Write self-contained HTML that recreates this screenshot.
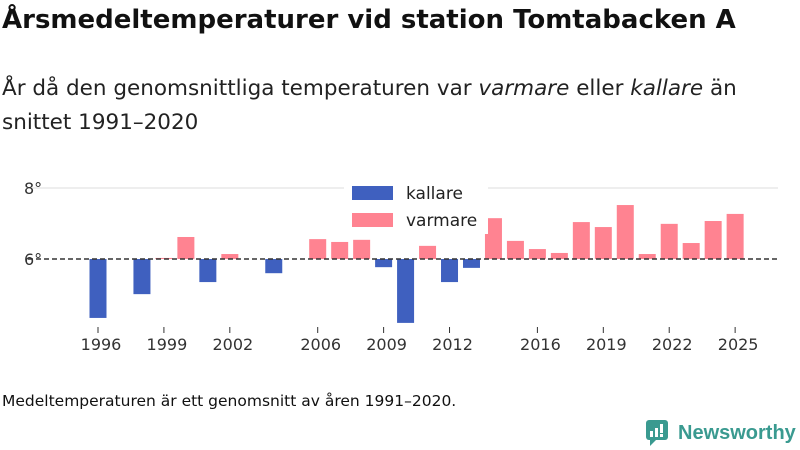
<!DOCTYPE html>
<html><head><meta charset="utf-8">
<style>
body{margin:0;width:800px;height:450px;background:#fff;font-family:"DejaVu Sans","Liberation Sans",sans-serif;overflow:hidden;position:relative;color:#222}
.title{position:absolute;left:2px;top:5px;font-size:26px;font-weight:bold;color:#111;white-space:nowrap}
.sub{position:absolute;left:2px;top:72px;font-size:21.5px;line-height:34px;color:#222;width:760px}
.note{position:absolute;left:2px;top:392px;font-size:15.5px;color:#111}
.logo{position:absolute;left:646px;top:420px;display:flex;align-items:center;font-size:20px;font-weight:bold;color:#3a9a90;font-family:"Liberation Sans",sans-serif}
</style></head><body>
<div class="title">Årsmedeltemperaturer vid station Tomtabacken A</div>
<div class="sub">År då den genomsnittliga temperaturen var <i>varmare</i> eller <i>kallare</i> än<br>snittet 1991–2020</div>
<svg id="chart" width="800" height="450" style="position:absolute;left:0;top:0"></svg>
<div class="note">Medeltemperaturen är ett genomsnitt av åren 1991–2020.</div>
<div class="logo">
<svg width="24" height="26" viewBox="0 0 24 26"><rect x="0" y="0" width="22" height="20" rx="3" fill="#3a9a90"/><polygon points="4,20 10,20 4,26" fill="#3a9a90"/><rect x="4" y="11" width="3" height="6" fill="#fff"/><rect x="9" y="8" width="3" height="9" fill="#fff"/><rect x="14" y="4" width="3" height="9" fill="#fff"/><rect x="14" y="14" width="3" height="3" fill="#fff"/></svg>
<span style="margin-left:8px">Newsworthy</span></div>
<script>
const years=[1996,1997,1998,1999,2000,2001,2002,2003,2004,2005,2006,2007,2008,2009,2010,2011,2012,2013,2014,2015,2016,2017,2018,2019,2020,2021,2022,2023,2024,2025];
const temps=[4.34,null,5.01,6.03,6.62,5.35,6.14,null,5.6,null,6.56,6.48,6.54,5.77,4.2,6.37,5.35,5.75,7.15,6.51,6.28,6.17,7.04,6.9,7.52,6.14,6.99,6.45,7.07,7.27];
const baseline=6.0;
const yTicks=[6,8];
const xTicks=[1996,1999,2002,2006,2009,2012,2016,2019,2022,2025];
const NS="http://www.w3.org/2000/svg";
const svg=document.getElementById('chart');
const x=y=>98+(y-1996)*21.97;
const yS=v=>259-(v-6)*35.5;
function mk(t,a){const e=document.createElementNS(NS,t);for(const k in a)e.setAttribute(k,a[k]);svg.appendChild(e);return e;}
yTicks.forEach(t=>{
 if(t!==baseline){const g=mk('line',{x1:28,x2:778,y1:yS(t),y2:yS(t),stroke:'#ddd','stroke-width':1});
 
 }
 const l=mk('text',{x:24,y:yS(t)+6,'font-size':16,fill:'#333'});l.textContent=t+'°';
 
 
});
years.forEach((yr,i)=>{const v=temps[i];if(v==null)return;
 const warm=v>=baseline;
 const r=mk('rect',{x:x(yr)-8.5,width:17,y:Math.min(yS(v),yS(baseline)),height:Math.abs(yS(v)-yS(baseline)),fill:warm?'#ff8391':'#3f60bf'});
 
 
});
const bl=mk('line',{x1:28,x2:778,y1:yS(baseline),y2:yS(baseline),stroke:'#333','stroke-width':1.5,'stroke-dasharray':'5,3'});


xTicks.forEach(t=>{
 const tk=mk('line',{x1:x(t),x2:x(t),y1:327,y2:333,stroke:'#333'});
 
 
 const l=mk('text',{x:x(t)+3,y:350,'font-size':16,fill:'#333','text-anchor':'middle'});l.textContent=t;
 
 
});
const lg=mk('rect',{x:344,y:182,width:144,height:52,fill:'#fff'});


[['kallare','#3f60bf',186],['varmare','#ff8391',213]].forEach(([n,c,yy])=>{
 const s=mk('rect',{x:352,y:yy,width:41,height:14,fill:c});
 
 
 const t=mk('text',{x:406,y:yy+13,'font-size':17,fill:'#222'});t.textContent=n;
 
 
});
</script>
</body></html>
